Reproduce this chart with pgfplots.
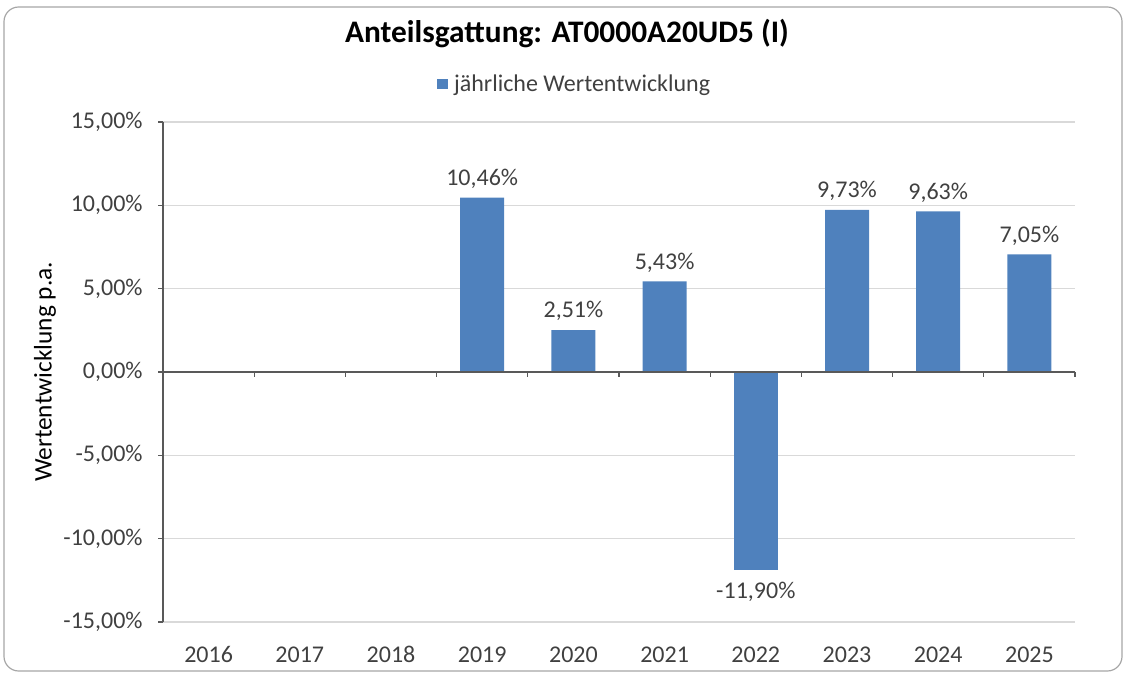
\documentclass[border=0pt]{standalone}
\usepackage{fontspec}
\setmainfont{Carlito}
\usepackage{pgfplots}
\pgfplotsset{compat=1.18}
\definecolor{barblue}{HTML}{4F81BD}
\definecolor{axisgray}{HTML}{595959}
\definecolor{gridgray}{HTML}{D9D9D9}
\definecolor{txt}{HTML}{404040}
\definecolor{framegray}{HTML}{A6A6A6}
\newcommand{\lab}{\fontsize{18}{21.6}\selectfont}
\begin{document}
\begin{tikzpicture}
\path[use as bounding box] (0,0) rectangle (844.5pt,505.5pt);
\draw[framegray, line width=0.9pt, rounded corners=11pt] (3pt,2.25pt) rectangle (841.5pt,500.25pt);
\begin{axis}[
  at={(122.25pt,39pt)}, anchor=south west,
  scale only axis, width=684pt, height=375pt,
  xmin=-0.5, xmax=9.5, ymin=-15, ymax=15,
  axis y line*=left, axis x line*=bottom,
  x axis line style={draw=none},
  y axis line style={axisgray, line width=0.9pt},
  ytick={-15,-10,...,15},
  yticklabels={{-15,00\%},{-10,00\%},{-5,00\%},{0,00\%},{5,00\%},{10,00\%},{15,00\%}},
  xtick={0,1,2,3,4,5,6,7,8,9},
  xticklabels={2016,2017,2018,2019,2020,2021,2022,2023,2024,2025},
  tick align=outside,
  major tick length=3.75pt,
  ytick style={axisgray, line width=0.9pt},
  xtick style={draw=none},
  ymajorgrids,
  grid style={gridgray, line width=0.9pt},
  tick label style={font=\lab, text=txt},
  xticklabel style={anchor=center, yshift=-20.5pt},
  yticklabel style={xshift=-8pt},
  ylabel={Wertentwicklung p.a.},
  ylabel style={at={(axis description cs:-0.1294,0.5)}, anchor=center, font=\fontsize{19}{23}\selectfont, text=black},
  title={Anteilsgattung: AT0000A20UD5 (I)},
  title style={at={(axis description cs:0.443,1.16)}, anchor=center, font=\bfseries\fontsize{23.5}{28}\selectfont},
  legend style={at={(axis description cs:0.4515,1.076)}, anchor=center, draw=none, fill=none, font=\lab, text=txt},
]
\addplot[ybar, bar width=33pt, bar shift=0pt, fill=barblue, draw=none,
  legend image code/.code={\fill[barblue] (0pt,-4.1pt) rectangle (8.25pt,4.1pt); \path (11pt,0pt);},
  point meta=explicit symbolic, nodes near coords,
  every node near coord/.style={anchor=center, yshift=14.25pt, font=\lab, text=txt}]
  coordinates {(3,10.46) [10,46\%] (4,2.51) [2,51\%] (5,5.43) [5,43\%] (7,9.73) [9,73\%] (8,9.63) [9,63\%] (9,7.05) [7,05\%]};
\addlegendentry{jährliche Wertentwicklung}
\addplot[ybar, bar width=33pt, bar shift=0pt, fill=barblue, draw=none, forget plot,
  point meta=explicit symbolic, nodes near coords,
  every node near coord/.style={anchor=center, yshift=-16pt, font=\lab, text=txt}]
  coordinates {(6,-11.90) [-11,90\%]};
\end{axis}
\begin{axis}[
  at={(122.25pt,39pt)}, anchor=south west,
  scale only axis, width=684pt, height=375pt,
  xmin=-0.5, xmax=9.5, ymin=-15, ymax=15,
  axis x line=middle, axis y line=none,
  x axis line style={-, axisgray, line width=0.9pt},
  xtick={-0.5,0.5,1.5,2.5,3.5,4.5,5.5,6.5,7.5,8.5,9.5},
  xticklabels={},
  tick align=outside,
  major tick length=3.75pt,
  xtick style={axisgray, line width=0.9pt},
]
\end{axis}
\end{tikzpicture}
\end{document}
